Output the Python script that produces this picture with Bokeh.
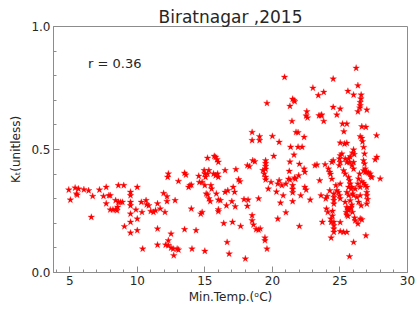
from bokeh.plotting import figure
from bokeh.models import Range1d, FixedTicker, PrintfTickFormatter, Label
from bokeh.embed import file_html
from bokeh.resources import INLINE

title_text = "Biratnagar ,2015"
r_text = "r = 0.36"
x_label = "Min.Temp.(\u1d52C)"
y_label = "K\u209c(unitless)"

x_major_ticks = [5, 10, 15, 20, 25, 30]
x_minor_ticks = [4, 6, 7, 8, 9, 11, 12, 13, 14, 16, 17, 18, 19, 21, 22, 23, 24, 26, 27, 28, 29]
y_major_ticks = [0.0, 0.5, 1.0]
y_minor_ticks = [0.1, 0.2, 0.3, 0.4, 0.6, 0.7, 0.8, 0.9]

min_temp = [
    4.93, 5.05, 5.4, 5.5, 5.55, 5.65, 6.05, 6.4, 6.6, 6.7, 7.2, 7.5, 7.7, 7.7, 7.9, 8.0, 8.0, 8.2, 8.4, 8.4,
    8.5, 8.55, 8.6, 8.6, 8.75, 9.0, 8.9, 9.05, 9.5, 9.5, 9.5, 9.5, 9.5, 9.5, 9.5, 9.9, 10.0, 10.0, 10.0,
    10.3, 10.35, 10.4, 10.65, 10.7, 10.85, 11.0, 11.2, 11.35, 11.5, 11.5, 11.5, 11.7, 11.95, 12.05, 12.2, 12.2,
    12.25, 12.3, 12.1, 12.3, 12.3, 12.5, 12.5, 12.65, 12.7, 12.8, 12.95, 13.05, 13.05, 13.5, 13.6, 13.5, 13.8,
    13.9, 14.0, 14.0, 14.05, 14.35, 14.55, 14.6, 14.8, 14.7, 14.8,
    15.0, 14.95, 15.0, 15.05, 15.2, 15.3, 15.2, 15.0, 15.1, 15.2, 15.3, 15.4, 15.45, 15.5, 15.65, 15.8, 15.95,
    15.7, 15.8, 15.9, 16.0, 15.85, 16.0, 16.0, 16.15, 16.0, 16.0,
    16.4, 16.5, 16.5, 16.7, 16.6, 16.65, 16.8, 17.0, 17.05, 17.1, 17.2, 17.25, 17.3, 17.5, 17.6, 17.65, 17.9,
    18.2, 18.0, 18.15, 18.15, 18.3, 18.5, 18.5, 18.55, 18.7, 18.5, 18.5, 18.6, 18.8, 18.98, 19.1, 18.98, 19.05,
    19.05, 19.3, 19.4, 19.45, 19.45, 19.5, 19.5, 19.5, 19.5, 19.5, 19.5, 19.6, 19.6, 19.7, 19.9,
    20.0, 20.1, 20.3, 20.4, 20.5, 20.4, 20.5, 20.6, 20.7, 20.8, 20.9, 21.0, 21.0, 21.25, 21.3, 21.3, 21.3, 21.35,
    21.45, 21.5, 21.6, 21.65, 21.5, 21.5, 21.5, 21.5, 21.6, 21.75, 21.9, 21.7, 21.9, 22.0, 21.95, 22.0, 22.2,
    22.1, 22.35, 22.35, 22.4, 22.4, 22.5, 22.5, 22.55, 22.6, 22.8, 21.2, 21.65,
    23.0, 23.15, 23.3, 23.4, 23.45, 23.6, 23.65, 23.5, 23.6, 23.7, 23.8, 23.8, 23.95, 24.0, 24.1, 24.15, 24.25,
    24.25, 24.33, 24.35, 24.35, 24.4, 24.5, 24.5, 24.5, 24.3, 24.4, 24.45, 24.45, 23.9, 24.05, 24.55, 24.55,
    24.55, 24.55, 24.55, 24.55, 24.55, 24.55,
    26.2, 26.33, 25.59, 26.01, 26.57, 26.55, 26.5, 26.5, 26.47, 26.99, 26.33, 25.02, 24.77, 25.19, 25.51, 25.29,
    26.62, 26.92, 26.5, 26.62, 27.71, 25.02, 25.34, 25.51, 26.67, 26.75, 26.01, 25.93, 26.06, 25.14, 25.02,
    25.39, 25.64, 25.76, 25.51, 25.71, 24.97, 25.02, 24.95, 27.61, 27.73, 26.82, 26.75, 26.82, 26.87, 26.01,
    25.88, 26.01, 26.75, 26.87, 26.99, 27.12, 27.24, 27.29, 27.36, 27.98, 25.27, 25.39, 25.64, 25.71, 25.76,
    25.64, 25.83, 25.88, 26.45, 26.38, 26.33, 26.5, 26.62, 26.75, 26.87, 26.99, 26.99, 26.99, 27.04, 26.99,
    25.02, 24.7, 24.77, 24.9, 24.97, 25.02, 25.51, 25.64, 25.76, 25.93, 26.01, 26.13, 25.39, 25.51, 25.59,
    25.64, 25.46, 25.51, 25.59, 25.76, 25.83, 25.88, 25.93, 26.25, 26.38, 26.5, 26.57, 26.08, 26.13, 26.33,
    26.5, 26.62, 25.02, 25.02, 25.51, 25.27, 26.01, 26.92, 25.71,
]

kt = [
    0.336, 0.295, 0.344, 0.32, 0.315, 0.34, 0.337, 0.333, 0.225, 0.31, 0.336, 0.31, 0.347, 0.28, 0.313, 0.313,
    0.255, 0.255, 0.256, 0.293, 0.252, 0.266, 0.354, 0.286, 0.286, 0.354, 0.286, 0.187, 0.327, 0.313, 0.286,
    0.272, 0.238, 0.205, 0.161, 0.255, 0.347, 0.218, 0.171,
    0.286, 0.245, 0.096, 0.293, 0.276, 0.272, 0.249, 0.245, 0.252, 0.178, 0.28, 0.112, 0.259, 0.322, 0.245,
    0.309, 0.289, 0.388, 0.401, 0.112, 0.11, 0.13, 0.157, 0.1, 0.096, 0.069, 0.293, 0.096, 0.092, 0.371, 0.404,
    0.397, 0.175, 0.347, 0.354, 0.356, 0.259, 0.096, 0.171, 0.392, 0.367, 0.367, 0.238, 0.245,
    0.087, 0.415, 0.401, 0.388, 0.401, 0.415, 0.465, 0.354, 0.32, 0.316, 0.30, 0.289, 0.354, 0.34, 0.401, 0.394,
    0.401, 0.473, 0.469, 0.459, 0.449, 0.32, 0.388, 0.295, 0.293, 0.256, 0.248,
    0.2, 0.415, 0.327, 0.333, 0.272, 0.123, 0.076, 0.289, 0.205, 0.347, 0.327, 0.268, 0.419, 0.378, 0.37, 0.188,
    0.297, 0.295, 0.056, 0.27, 0.435, 0.431, 0.57, 0.537, 0.455, 0.451, 0.232, 0.211, 0.194, 0.175, 0.173,
    0.178, 0.30, 0.553, 0.537, 0.415, 0.401, 0.141, 0.13, 0.455, 0.444, 0.432, 0.42, 0.388, 0.377, 0.688,
    0.096, 0.34, 0.367,
    0.554, 0.473, 0.328, 0.36, 0.374, 0.218, 0.53, 0.283, 0.354, 0.313, 0.794, 0.36, 0.244, 0.412, 0.45, 0.377,
    0.676, 0.51, 0.615, 0.705, 0.70, 0.695, 0.354, 0.339, 0.325, 0.289, 0.478, 0.57, 0.569, 0.38, 0.51, 0.441,
    0.394, 0.188, 0.51, 0.313, 0.55, 0.421, 0.408, 0.347, 0.336, 0.637, 0.654, 0.629, 0.295, 0.38, 0.385,
    0.75, 0.435, 0.438, 0.72, 0.638, 0.638, 0.641, 0.374, 0.313, 0.205, 0.733, 0.615, 0.30, 0.259, 0.245, 0.421,
    0.408, 0.333, 0.218, 0.205, 0.141, 0.449, 0.455, 0.672, 0.787, 0.40, 0.38, 0.25, 0.23, 0.439, 0.31, 0.32,
    0.306, 0.293, 0.279, 0.205, 0.191, 0.178, 0.164,
    0.831, 0.76, 0.737, 0.722, 0.722, 0.706, 0.692, 0.679, 0.669, 0.661, 0.654, 0.665, 0.641, 0.604, 0.604,
    0.573, 0.593, 0.591, 0.553, 0.546, 0.557, 0.527, 0.523, 0.526, 0.532, 0.509, 0.499, 0.486, 0.48, 0.482,
    0.475, 0.462, 0.462, 0.471, 0.448, 0.448, 0.462, 0.448, 0.435, 0.459, 0.469, 0.482, 0.455, 0.442, 0.421,
    0.448, 0.435, 0.421, 0.414, 0.408, 0.408, 0.405, 0.401, 0.39, 0.387, 0.381, 0.414, 0.401, 0.387, 0.374,
    0.36, 0.347, 0.34, 0.347, 0.401, 0.381, 0.36, 0.347, 0.37, 0.363, 0.354, 0.347, 0.326, 0.313, 0.297, 0.279,
    0.36, 0.354, 0.333, 0.326, 0.313, 0.3, 0.326, 0.313, 0.292, 0.32, 0.313, 0.34, 0.286, 0.265, 0.259, 0.252,
    0.245, 0.234, 0.229, 0.259, 0.265, 0.275, 0.245, 0.306, 0.286, 0.313, 0.272, 0.222, 0.211, 0.198, 0.218,
    0.215, 0.204, 0.167, 0.164, 0.164, 0.123, 0.15, 0.065,
]

TEXT = "#262626"
AXIS = "#8c8c8c"
FONT = "DejaVu Sans"

p = figure(
    width=419, height=311,
    x_range=Range1d(3.8, 30), y_range=Range1d(0, 1.0),
    output_backend="svg", toolbar_location=None,
    title=title_text,
    min_border_left=53, min_border_right=12, min_border_top=26, min_border_bottom=39,
)
p.title.text_font = FONT
p.title.text_font_size = "17px"
p.title.text_font_style = "normal"
p.title.text_color = TEXT
p.title.align = "center"
p.title.standoff = 0
p.title.offset = -6
p.background_fill_color = "white"
p.border_fill_color = "white"
p.outline_line_color = AXIS
p.outline_line_width = 1
p.grid.visible = False

p.xaxis.ticker = FixedTicker(ticks=x_major_ticks, minor_ticks=x_minor_ticks)
p.yaxis.ticker = FixedTicker(ticks=y_major_ticks, minor_ticks=y_minor_ticks)
p.xaxis.formatter = PrintfTickFormatter(format="%d")
p.yaxis.formatter = PrintfTickFormatter(format="%.1f")
p.xaxis.axis_label = x_label
p.yaxis.axis_label = y_label
p.xaxis.axis_label_standoff = 2
p.yaxis.axis_label_standoff = 5

for ax in (p.xaxis[0], p.yaxis[0]):
    ax.axis_line_color = AXIS
    ax.major_tick_line_color = AXIS
    ax.minor_tick_line_color = AXIS
    ax.major_tick_in = 6
    ax.major_tick_out = 0
    ax.minor_tick_in = 3
    ax.minor_tick_out = 0
    ax.major_label_text_font = FONT
    ax.major_label_text_font_size = "12px"
    ax.major_label_text_color = TEXT
    ax.major_label_standoff = 3
    ax.axis_label_text_font = FONT
    ax.axis_label_text_font_size = "12px"
    ax.axis_label_text_font_style = "normal"
    ax.axis_label_text_color = TEXT

p.scatter(min_temp, kt, marker="star", size=7,
          fill_color="red", line_color="red", line_width=0.3)

p.add_layout(Label(x=6.36, y=0.848, text=r_text, text_font=FONT, text_font_size="13px",
                   text_color=TEXT, text_baseline="alphabetic"))

open("out.html", "w").write(file_html(p, INLINE))
